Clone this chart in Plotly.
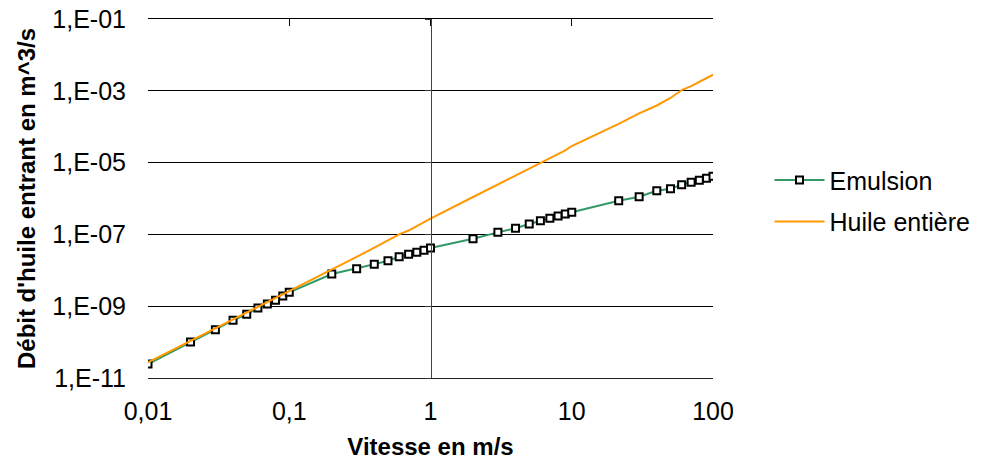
import plotly.graph_objects as go

vitesse = [0.01, 0.02, 0.03, 0.04, 0.05, 0.06, 0.07, 0.08, 0.09, 0.1,
           0.2, 0.3, 0.4, 0.5, 0.6, 0.7, 0.8, 0.9, 1,
           2, 3, 4, 5, 6, 7, 8, 9, 10,
           21.5, 30, 40, 50, 60, 70, 80, 90, 100]

emulsion = [2.45e-11, 1.0e-10, 2.2e-10, 4.05e-10, 5.95e-10, 8.9e-10, 1.15e-9, 1.46e-9, 1.92e-9, 2.44e-9,
            7.9e-9, 1.11e-8, 1.47e-8, 1.85e-8, 2.39e-8, 2.79e-8, 3.17e-8, 3.61e-8, 4.18e-8,
            7.6e-8, 1.14e-7, 1.48e-7, 1.95e-7, 2.41e-7, 2.81e-7, 3.26e-7, 3.7e-7, 4.13e-7,
            8.7e-7, 1.12e-6, 1.65e-6, 1.87e-6, 2.42e-6, 2.82e-6, 3.21e-6, 3.66e-6, 4.15e-6]

huile_entiere = [2.74e-11, 1.08e-10, 2.45e-10, 4.4e-10, 6.8e-10, 9.9e-10, 1.35e-9, 1.76e-9, 2.22e-9, 2.75e-9,
                 1.05e-8, 2.35e-8, 4.3e-8, 6.8e-8, 1.0e-7, 1.28e-7, 1.7e-7, 2.2e-7, 2.75e-7,
                 1.1e-6, 2.45e-6, 4.3e-6, 6.8e-6, 9.8e-6, 1.33e-5, 1.75e-5, 2.2e-5, 2.9e-5,
                 1.2e-4, 2.35e-4, 3.9e-4, 6.3e-4, 1.05e-3, 1.35e-3, 1.75e-3, 2.2e-3, 2.8e-3]

x_tickvals = [0.01, 0.1, 1, 10, 100]
x_ticktext = ["0,01", "0,1", "1", "10", "100"]
y_tickvals = [1e-11, 1e-9, 1e-7, 1e-5, 1e-3, 1e-1]
y_ticktext = ["1,E-11", "1,E-09", "1,E-07", "1,E-05", "1,E-03", "1,E-01"]

FONT = "Liberation Sans, Arial, sans-serif"

fig = go.Figure()
# invisible helper trace for the overlay axes (top x axis line, y axis line at x=1)
fig.add_trace(go.Scatter(x=[1], y=[1e-5], xaxis="x2", yaxis="y2", mode="lines",
                         showlegend=False, hoverinfo="skip"))
fig.add_trace(go.Scatter(
    x=vitesse, y=emulsion, name="Emulsion", mode="lines+markers", legendgroup="a",
    line=dict(color="#339966", width=2),
    marker=dict(symbol="square", size=7, color="white", line=dict(color="black", width=2)),
))
fig.add_trace(go.Scatter(
    x=vitesse, y=huile_entiere, name="Huile entière", mode="lines", legendgroup="b",
    line=dict(color="#FF9900", width=2),
))

fig.update_layout(
    width=982, height=475,
    margin=dict(l=148, r=269, t=19, b=97, autoexpand=False),
    paper_bgcolor="white", plot_bgcolor="white",
    font=dict(family=FONT, size=25, color="black"),
    showlegend=True,
    legend=dict(x=1.1, y=0.494, xanchor="left", yanchor="middle",
                font=dict(size=25), itemwidth=50, tracegroupgap=6,
                bgcolor="rgba(0,0,0,0)"),
    xaxis=dict(type="log", range=[-2, 2], tickvals=x_tickvals, ticktext=x_ticktext,
               showgrid=False, zeroline=False, ticks="", showline=True, automargin=False,
               linecolor="#222", linewidth=1, ticklabelstandoff=11,
               ticklabeloverflow="allow",
               title=dict(text="<b>Vitesse en m/s</b>", standoff=14,
                          font=dict(size=24))),
    yaxis=dict(type="log", range=[-11, -1], tickvals=y_tickvals, ticktext=y_ticktext,
               showgrid=True, gridcolor="black", gridwidth=1, zeroline=False, automargin=False,
               ticks="", showline=False, ticklabelstandoff=21, ticklabeloverflow="allow",
               title=dict(text="<b>Débit d'huile entrant en m^3/s</b>", standoff=9,
                          font=dict(size=24))),
    xaxis2=dict(type="log", range=[-2, 2], overlaying="x", side="top", anchor="y2",
                tickvals=x_tickvals, showticklabels=False, ticks="inside", ticklen=7,
                tickcolor="black", showline=True, linecolor="black", linewidth=1,
                showgrid=False, zeroline=False, automargin=False),
    yaxis2=dict(type="log", range=[-11, -1], overlaying="y", anchor="free", position=0.5,
                side="left", tickvals=y_tickvals, showticklabels=False, ticks="outside",
                ticklen=6, tickcolor="#333", showline=True, linecolor="#444", linewidth=1,
                showgrid=False, zeroline=False, automargin=False),
)

fig.write_html("out.html", config={"displayModeBar": False},
               post_script="document.body.style.margin='0';")
